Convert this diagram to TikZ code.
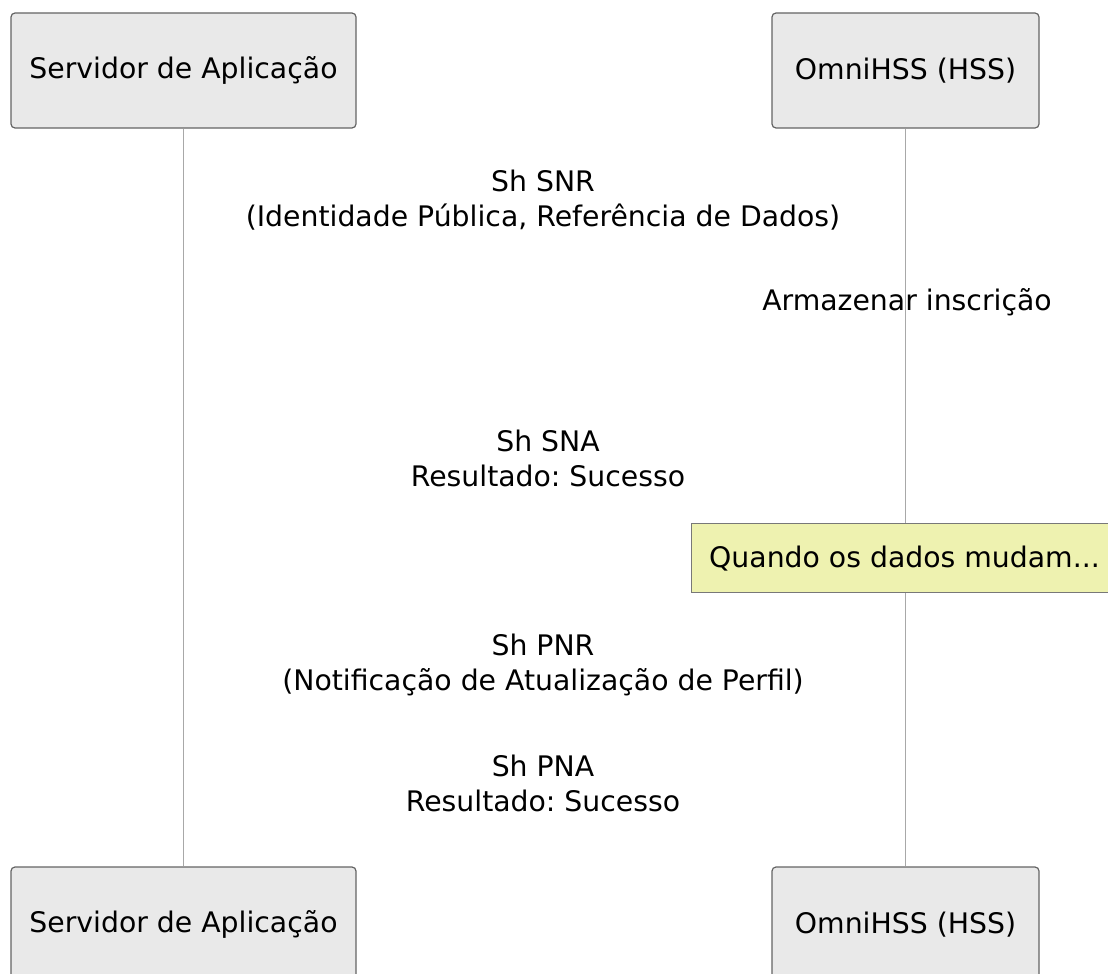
\documentclass[tikz,border=0pt]{standalone}
\usepackage{fontspec}
\setmainfont{DejaVu Sans}
\frenchspacing
\definecolor{partfill}{RGB}{233,233,233}
\definecolor{partline}{RGB}{100,100,100}
\definecolor{lifeline}{RGB}{168,168,168}
\definecolor{notefill}{RGB}{238,242,176}
\definecolor{noteline}{RGB}{120,120,120}
\begin{document}
\begin{tikzpicture}[x=1pt,y=-1pt,
  part/.style={draw=partline,fill=partfill,line width=1.2pt,rounded corners=4pt,
    minimum height=115pt,inner sep=0pt,font=\fontsize{28.3}{32}\selectfont},
  msg/.style={align=center,inner sep=0pt,font=\fontsize{28.3}{35}\selectfont},
  life/.style={draw=lifeline,line width=1pt},
  notebox/.style={draw=noteline,fill=notefill,line width=1.2pt,anchor=north west,
    minimum height=69pt,minimum width=440pt,inner sep=0pt,font=\fontsize{28.3}{32}\selectfont}]
\useasboundingbox (0,0) rectangle (1108,974);
\clip (0,0) rectangle (1108,974);
\node[part,minimum width=345pt] (asTop) at (183.5,70.5) {Servidor de Aplicação};
\node[part,minimum width=267pt] (hssTop) at (905.5,70.5) {OmniHSS (HSS)};
\node[part,minimum width=345pt] (asBot) at (183.5,924.5) {Servidor de Aplicação};
\node[part,minimum width=267pt] (hssBot) at (905.5,924.5) {OmniHSS (HSS)};
\draw[life] (asTop.south) -- (asBot.north);
\draw[life] (hssTop.south) -- (hssBot.north);
\node[msg] (snr) at (543,200) {Sh SNR\\(Identidade Pública, Referência de Dados)};
\node[msg] (store) at (907,302) {Armazenar inscrição};
\node[msg] (sna) at (548,458) {Sh SNA\\Resultado: Sucesso};
\node[notebox] (note) at (691,523) {};
\node[anchor=west,inner sep=0pt,font=\fontsize{28.3}{32}\selectfont] (notetext) at (709,559) {Quando os dados mudam...};
\node[msg] (pnr) at (543,665) {Sh PNR\\(Notificação de Atualização de Perfil)};
\node[msg] (pna) at (543,783) {Sh PNA\\Resultado: Sucesso};
\end{tikzpicture}
\end{document}
